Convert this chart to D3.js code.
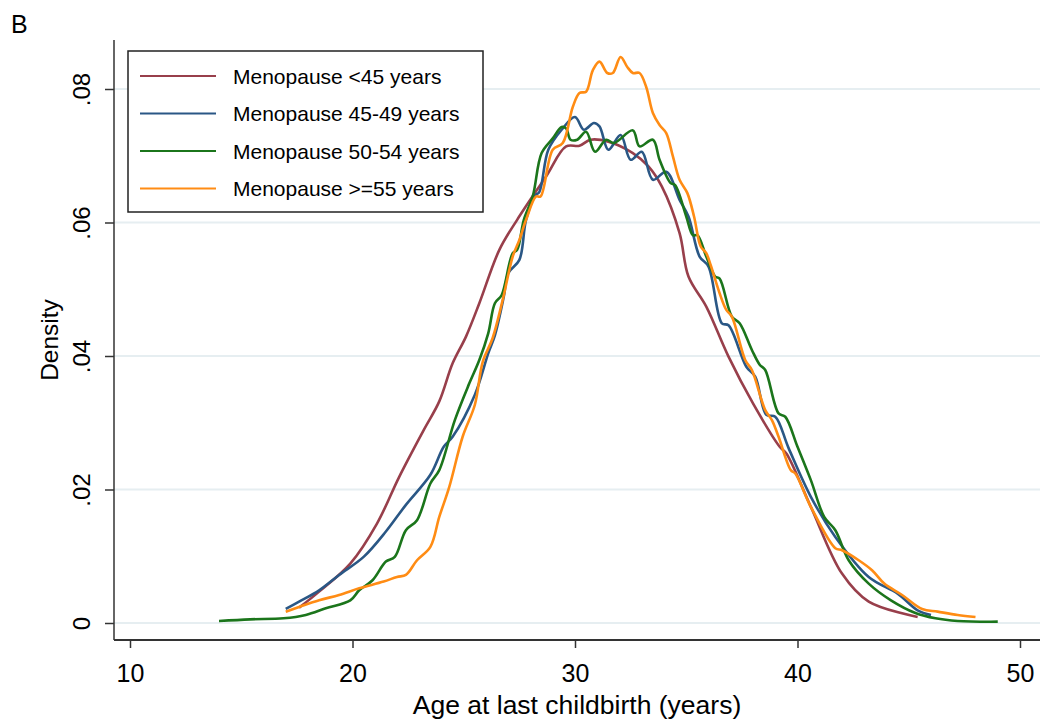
<html>
<script src='https://d3js.org/d3.v7.min.js'></script>
<style>
  body {margin: 0; background: white;}
  text {font-family: "Liberation Sans", Arial, sans-serif; fill: #000;}
</style>
<body onload='init()'>
<svg width=1044 height=720></svg>
<script>
// x ticks, y ticks
var xTicks = [10, 20, 30, 40, 50];
var yTicks = [0, 0.02, 0.04, 0.06, 0.08];
var yTickLabels = ["0", ".02", ".04", ".06", ".08"];

var groups = ["Menopause <45 years", "Menopause 45-49 years", "Menopause 50-54 years", "Menopause >=55 years"];
var colors = ["#983f4b", "#2a5785", "#1b751b", "#ff8c14"];

// density curves (age, density)
var lt45Age = [17.6,18.5,19.9,21.1,22.1,23.2,23.9,24.5,25.1,25.7,26.6,27.4,28.7,29.6,30.2,30.7,31.5,32.6,33.3,33.9,34.7,35.1,35.9,36.9,38.0,39.2,39.5,40.6,42.0,43.2,45.4];
var lt45Dens = [.0023,.0047,.0089,.0149,.0219,.0289,.0332,.0389,.0429,.0479,.0559,.0604,.0669,.0714,.0715,.0724,.0721,.0704,.0684,.0654,.0584,.0519,.0474,.0399,.0329,.0264,.0254,.0174,.0074,.0032,.0009];

var m4549Age = [17.0,17.6,18.5,19.4,20.5,21.5,22.4,23.5,24.1,24.5,25.5,26.1,26.4,26.8,27.0,27.5,27.8,28.2,28.4,28.8,29.4,30.0,30.4,30.85,31.1,31.5,32.05,32.5,33.0,33.5,34.1,34.7,35.1,35.6,36.0,36.6,36.9,37.7,38.1,38.6,39.0,39.6,40.6,41.7,43.2,44.5,45.4,46.0];
var m4549Dens = [.0021,.0032,.0049,.0072,.0099,.0137,.0177,.0222,.0264,.0279,.0342,.0404,.0431,.0489,.0524,.0544,.0604,.0640,.0646,.0709,.0739,.0758,.0739,.0749,.0744,.0709,.0731,.0694,.0706,.0664,.0676,.0634,.0609,.0549,.0534,.0449,.0446,.0384,.0369,.0312,.0309,.0262,.0189,.0129,.0069,.0044,.0019,.0012];

var m5054Age = [14.0,15.4,16.9,17.9,18.8,19.9,20.3,20.9,21.5,21.9,22.4,22.9,23.5,23.9,24.6,25.25,25.7,26.1,26.4,26.7,27.2,27.4,27.7,28.1,28.5,29.0,29.4,29.6,29.8,30.1,30.5,30.9,31.4,31.75,32.6,32.9,33.5,33.8,34.3,34.5,35.0,35.3,35.5,35.9,36.3,36.5,37.05,37.4,37.95,38.3,38.55,39.15,39.45,40.0,40.6,41.2,41.7,42.3,43.2,44.2,45.3,46.2,47.2,49.0];
var m5054Dens = [.0003,.00055,.0007,.0012,.0022,.0034,.0049,.0064,.0092,.0099,.0139,.0154,.0209,.0229,.0304,.0359,.0394,.0434,.0479,.0491,.0554,.0559,.0604,.0639,.0704,.0726,.0743,.0741,.0724,.0724,.0736,.0706,.0724,.0719,.0738,.0714,.0724,.0694,.0659,.0656,.0609,.0581,.0581,.0549,.0519,.0516,.0459,.0449,.0409,.0387,.0379,.0314,.0309,.0264,.0214,.0159,.0139,.0094,.0059,.0034,.0015,.0007,.0003,.0002];

var ge55Age = [17.0,17.6,18.5,19.4,20.3,21.4,22.0,22.4,22.9,23.5,23.9,24.35,24.95,25.5,25.85,26.3,26.75,27.2,27.5,27.8,28.25,28.45,29.0,29.45,29.9,30.2,30.5,30.8,31.1,31.45,31.7,32.05,32.35,32.6,32.9,33.2,33.5,33.8,34.1,34.4,34.7,35.05,35.35,35.65,35.9,36.1,36.5,36.8,37.05,37.65,37.95,38.55,38.85,39.15,39.7,39.9,40.6,41.7,42.0,42.75,43.35,43.9,44.7,45.6,46.3,47.2,48.0];
var ge55Dens = [.0017,.0024,.0034,.0042,.0052,.0062,.0069,.0072,.0094,.0114,.0159,.0204,.0279,.0327,.0391,.0427,.0484,.0549,.0574,.0604,.0639,.0639,.0709,.0719,.0773,.0794,.0796,.0828,.0841,.0824,.0824,.0848,.0833,.0824,.0824,.0803,.0764,.0746,.0734,.0699,.0664,.0644,.0609,.0564,.0554,.0536,.0494,.0469,.0459,.0394,.0379,.0319,.0304,.0279,.0229,.0224,.0174,.0112,.0109,.0094,.0079,.0059,.0042,.0021,.0017,.0012,.0009];

function init() {
  var svg = d3.select("svg");
  svg.append("rect").attr("width", 1044).attr("height", 720).attr("fill", "white");

  var x = d3.scaleLinear().domain([10, 50]).range([130, 1020]);
  var y = d3.scaleLinear().domain([0, 0.08]).range([623, 89]);

  var left = 114, right = 1040, top = 40, bottom = 640;

  // gridlines
  svg.append("g").selectAll("line")
    .data(yTicks)
    .enter()
    .append("line")
    .attr("x1", left).attr("x2", right)
    .attr("y1", function(d){ return y(d); })
    .attr("y2", function(d){ return y(d); })
    .attr("stroke", "#e6eef1")
    .attr("stroke-width", 2);

  // y axis, labels turned on their side
  var y_axis = d3.axisLeft(y).tickValues(yTicks).tickSize(9)
    .tickFormat(function(d, i){ return yTickLabels[i]; });
  var gy = svg.append("g").attr("transform", "translate(" + left + ",0)").call(y_axis);
  gy.select(".domain").remove();
  gy.selectAll("line").attr("stroke", "#333").attr("stroke-width", 1.5);
  gy.selectAll("text")
    .style("font-size", "24px")
    .attr("text-anchor", "middle")
    .attr("transform", "translate(-24,0) rotate(-90)")
    .attr("x", 0)
    .attr("y", 0)
    .attr("dy", 0);

  // x axis
  var x_axis = d3.axisBottom(x).tickValues(xTicks).tickSize(8).tickPadding(14);
  var gx = svg.append("g").attr("transform", "translate(0," + bottom + ")").call(x_axis);
  gx.select(".domain").remove();
  gx.selectAll("line").attr("stroke", "#333").attr("stroke-width", 1.5);
  gx.selectAll("text").style("font-size", "25px").attr("dy", "0.8em");

  svg.append("line").attr("x1", left).attr("x2", left).attr("y1", top).attr("y2", bottom)
    .attr("stroke", "#333").attr("stroke-width", 1.5);
  svg.append("line").attr("x1", left).attr("x2", right).attr("y1", bottom).attr("y2", bottom)
    .attr("stroke", "#333").attr("stroke-width", 2);

  // curves
  var series = [
    {name: groups[0], age: lt45Age, dens: lt45Dens},
    {name: groups[1], age: m4549Age, dens: m4549Dens},
    {name: groups[2], age: m5054Age, dens: m5054Dens},
    {name: groups[3], age: ge55Age, dens: ge55Dens}
  ];
  var line = d3.line()
    .x(function(d) { return x(d[0]); })
    .y(function(d) { return y(d[1]); })
    .curve(d3.curveCatmullRom.alpha(0.5));

  svg.append("g").selectAll("path")
    .data(series)
    .enter()
    .append("path")
    .attr("d", function(s){ return line(s.age.map(function(a, i){ return [a, s.dens[i]]; })); })
    .attr("fill", "none")
    .attr("stroke", function(s, i){ return colors[i]; })
    .attr("stroke-width", 2.6)
    .attr("stroke-linejoin", "round");

  // legend
  var lg = svg.append("g");
  lg.append("rect").attr("x", 128).attr("y", 51).attr("width", 355).attr("height", 161)
    .attr("fill", "white").attr("stroke", "#222").attr("stroke-width", 1.5);
  var items = lg.selectAll(".item").data(groups).enter().append("g")
    .attr("transform", function(d, i){ return "translate(0," + (76 + i * 37.5) + ")"; });
  items.append("line").attr("x1", 140).attr("x2", 216)
    .attr("stroke", function(d, i){ return colors[i]; }).attr("stroke-width", 2.2);
  items.append("text").attr("x", 233).attr("y", 7.5).style("font-size", "21px")
    .text(function(d){ return d; });

  // titles
  svg.append("text").attr("x", 577).attr("y", 714).attr("text-anchor", "middle")
    .style("font-size", "26.5px").text("Age at last childbirth (years)");
  svg.append("text").attr("transform", "translate(58,340) rotate(-90)").attr("text-anchor", "middle")
    .style("font-size", "24.5px").text("Density");
  svg.append("text").attr("x", 11).attr("y", 33).style("font-size", "25px").text("B");
}
</script>
</body>
</html>
